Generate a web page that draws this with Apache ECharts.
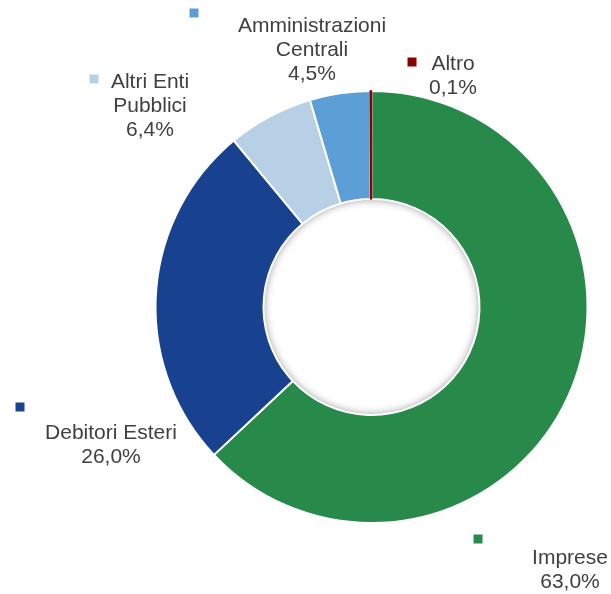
<!DOCTYPE html>
<html>
<head>
<meta charset="utf-8">
<title>Ripartizione per controparte</title>
<script src="https://cdn.jsdelivr.net/npm/echarts@6/dist/echarts.min.js"></script>
<style>
  html, body { margin: 0; padding: 0; background: #ffffff; }
  #chart { width: 611px; height: 594px; }
</style>
</head>
<body>
<div id="chart"></div>
<script>
// Counterparty groups, clockwise from twelve o'clock
const categories = ['Imprese', 'Debitori Esteri', 'Altri Enti Pubblici', 'Amministrazioni Centrali', 'Altro'];
const labelLines = ['Imprese', 'Debitori Esteri', 'Altri Enti\nPubblici', 'Amministrazioni\nCentrali', 'Altro'];
const shares = [63.0, 26.0, 6.4, 4.5, 0.1];

// Slice colours
const colors = ['#278A4B', '#18428F', '#B8D0E6', '#5B9FD6', '#8B0000'];

// Where each label block and its colour key sit (centre points, px)
const labelPos = [[570, 570], [111, 445], [150, 106], [312, 50], [453, 76]];
const keyPos = [[478, 539], [20, 407], [94, 79], [194, 13], [412, 62]];

const CENTER = [371.5, 307];
const fmtPct = v => v.toFixed(1).replace('.', ',') + '%';

const chart = echarts.init(document.getElementById('chart'), null, { renderer: 'canvas' });

const sliceData = categories.map((name, i) => ({
  name: name,
  value: shares[i],
  itemStyle: i === categories.length - 1
    ? { color: colors[i], borderColor: colors[i], borderWidth: 1.5 }
    : { color: colors[i], borderColor: '#ffffff', borderWidth: 2 }
}));

const keyData = categories.map((name, i) => ({
  name: name,
  value: shares[i],
  label: { rich: { k: { backgroundColor: colors[i] } } }
}));

chart.setOption({
  animation: false,
  backgroundColor: '#ffffff',
  series: [
    {
      // soft shadow just inside the hole
      type: 'pie',
      silent: true,
      z: 1,
      center: CENTER,
      radius: [108, 150],
      label: { show: false },
      labelLine: { show: false },
      itemStyle: {
        color: '#ffffff',
        shadowBlur: 9,
        shadowColor: 'rgba(0,0,0,0.45)'
      },
      data: [1]
    },
    {
      type: 'pie',
      z: 2,
      center: CENTER,
      radius: [108, 216],
      startAngle: 90,
      clockwise: true,
      avoidLabelOverlap: false,
      label: {
        show: true,
        position: 'outside',
        color: '#404040',
        fontFamily: 'Liberation Sans, Arial, sans-serif',
        fontSize: 21,
        lineHeight: 24,
        align: 'center',
        formatter: p => labelLines[p.dataIndex] + '\n' + fmtPct(p.value)
      },
      labelLine: { show: false },
      labelLayout: p => ({
        x: labelPos[p.dataIndex][0],
        y: labelPos[p.dataIndex][1],
        align: 'center',
        verticalAlign: 'middle'
      }),
      emphasis: { disabled: true },
      data: sliceData
    },
    {
      // colour keys beside each label
      type: 'pie',
      silent: true,
      z: 3,
      center: CENTER,
      radius: [108, 216],
      startAngle: 90,
      clockwise: true,
      avoidLabelOverlap: false,
      itemStyle: { color: 'rgba(0,0,0,0)', borderWidth: 0 },
      label: {
        show: true,
        position: 'outside',
        formatter: '{k|}',
        rich: { k: { width: 9, height: 9 } }
      },
      labelLine: { show: false },
      labelLayout: p => ({
        x: keyPos[p.dataIndex][0],
        y: keyPos[p.dataIndex][1],
        align: 'center',
        verticalAlign: 'middle'
      }),
      emphasis: { disabled: true },
      data: keyData
    }
  ]
});
</script>
</body>
</html>
